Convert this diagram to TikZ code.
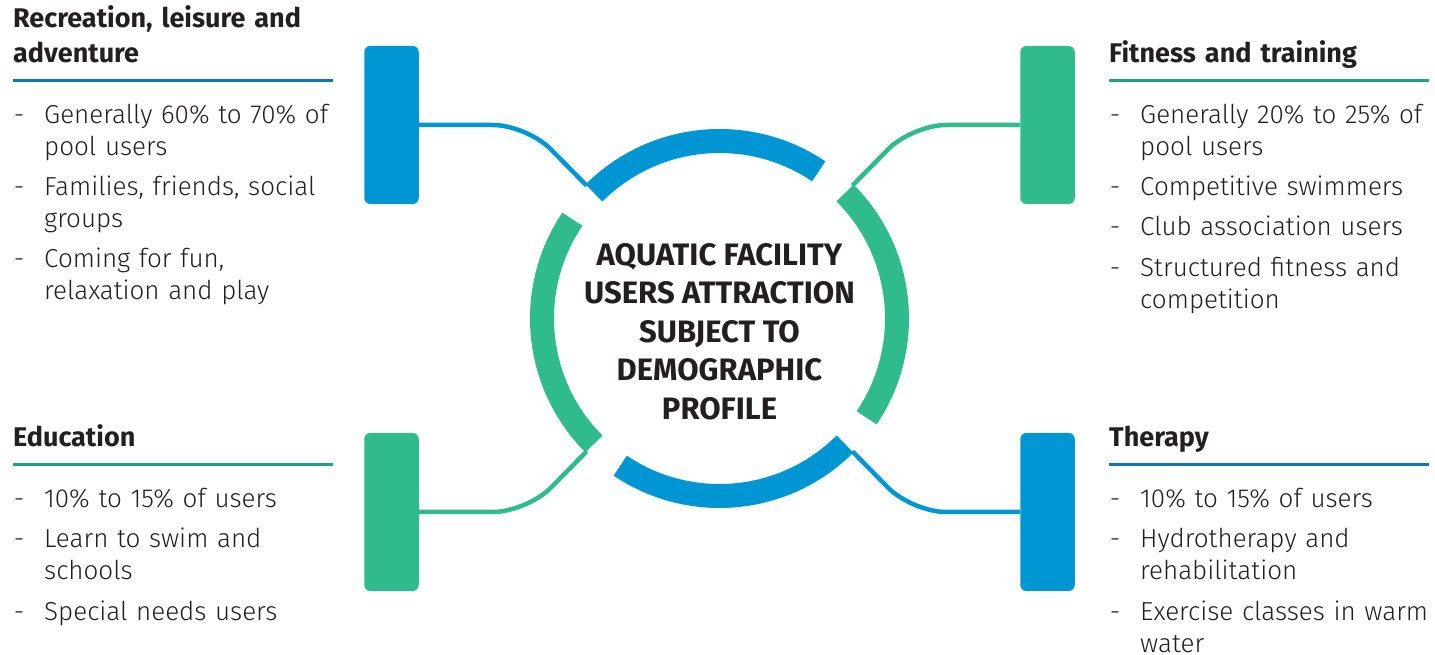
\documentclass[tikz,border=0pt]{standalone}
\usepackage{fontspec}
\setmainfont{Fira Sans}[UprightFont=* Light, BoldFont=* SemiBold]
\newfontfamily\headfont{Fira Sans}[UprightFont=* Bold]
\newfontfamily\hubfont{Fira Sans}[UprightFont=* Bold]
\usepackage{tikz}
\usetikzlibrary{positioning}
\definecolor{aqblue}{RGB}{0,150,211}
\definecolor{aqgreen}{RGB}{47,187,139}
\definecolor{ruleblue}{RGB}{16,116,188}
\definecolor{rulegreen}{RGB}{26,163,130}
\definecolor{ink}{RGB}{35,31,32}
\tikzset{
	bar/.style = {rectangle, rounded corners=6pt, inner sep=0pt,
		minimum width=54.5pt, minimum height=158pt},
	bar_b/.style = {bar, fill=aqblue},% barre bleue
	bar_g/.style = {bar, fill=aqgreen},% barre verte
	ring/.style = {line width=24pt},
	link/.style = {line width=4.5pt, rounded corners=34pt},
	head/.style = {anchor=south west, align=left, text width=320pt,
		inner xsep=0pt, inner ysep=7.5pt, text=ink,
		font=\headfont\fontsize{27}{35}\selectfont,
		execute at begin node=\strut, execute at end node=\strut},
	point/.style = {align=left, text width=310pt, inner sep=0pt, text=ink,
		font=\fontsize{26}{32}\selectfont,
		execute at begin node={\noindent\llap{-\hspace{20pt}}\strut},
		execute at end node=\strut},% un tiret par point
	hubtitle/.style = {align=center, inner sep=0pt, text=ink,
		font=\hubfont\fontsize{31}{38.5}\selectfont,
		execute at begin node=\strut, execute at end node=\strut}
}

\begin{document}
\begin{tikzpicture}[x=1pt, y=1pt]
\useasboundingbox (0,0) rectangle (1435,655);
\coordinate (hub) at (719.5,336.5);
% anneau central
\foreach \k/\c in {0/aqblue,1/aqgreen,2/aqblue,3/aqgreen}
	\draw[ring, \c] (hub) ++(56+90*\k:177.5) arc[start angle=56+90*\k, end angle=135+90*\k, radius=177.5];
\path (hub) ++(135:188) coordinate (recend);
\path (hub) ++(45:188) coordinate (fitend);
\path (hub) ++(225:188) coordinate (eduend);
\path (hub) ++(315:188) coordinate (therend);
\node[hubtitle] (hubtext) at (719.5,318) {AQUATIC FACILITY\\USERS ATTRACTION\\SUBJECT TO\\DEMOGRAPHIC\\PROFILE};

% barres et liens
\node[bar_b] (recbar) at (391.5,530) {};
\node[bar_g] (fitbar) at (1047.5,530) {};
\node[bar_g] (edubar) at (391.5,143) {};
\node[bar_b] (therbar) at (1047.5,143) {};
\draw[link, aqblue] (recbar.east) -- ++(108,0) -- (recend);
\draw[link, aqgreen] (fitbar.west) -- ++(-108,0) -- (fitend);
\draw[link, aqgreen] (edubar.east) -- ++(108,0) -- (eduend);
\draw[link, aqblue] (therbar.west) -- ++(-108,0) -- (therend);

% recreation
\node[head] (rech) at (13,574.5) {Recreation, leisure and\\adventure};
\draw[ruleblue, line width=3pt] (rech.south west) -- (rech.south east);
\node[point, below right=20pt and 31pt of rech.south west] (rec1) {Generally 60\% to 70\% of\\pool users};
\node[point, below=8pt of rec1] (rec2) {Families, friends, social\\groups};
\node[point, below=8pt of rec2] (rec3) {Coming for fun,\\relaxation and play};

% fitness
\node[head] (fith) at (1109,574.5) {Fitness and training};
\draw[rulegreen, line width=3pt] (fith.south west) -- (fith.south east);
\node[point, below right=20pt and 31pt of fith.south west] (fit1) {Generally 20\% to 25\% of\\pool users};
\node[point, below=8pt of fit1] (fit2) {Competitive swimmers};
\node[point, below=8pt of fit2] (fit3) {Club association users};
\node[point, below=8pt of fit3] (fit4) {Structured fitness and\\competition};

% education
\node[head] (eduh) at (13,190) {Education};
\draw[rulegreen, line width=3pt] (eduh.south west) -- (eduh.south east);
\node[point, below right=20pt and 31pt of eduh.south west] (edu1) {10\% to 15\% of users};
\node[point, below=8pt of edu1] (edu2) {Learn to swim and\\schools};
\node[point, below=8pt of edu2] (edu3) {Special needs users};

% therapy
\node[head] (therh) at (1109,190) {Therapy};
\draw[ruleblue, line width=3pt] (therh.south west) -- (therh.south east);
\node[point, below right=20pt and 31pt of therh.south west] (ther1) {10\% to 15\% of users};
\node[point, below=8pt of ther1] (ther2) {Hydrotherapy and\\rehabilitation};
\node[point, below=8pt of ther2] (ther3) {Exercise classes in warm\\water};
\end{tikzpicture}
\end{document}
